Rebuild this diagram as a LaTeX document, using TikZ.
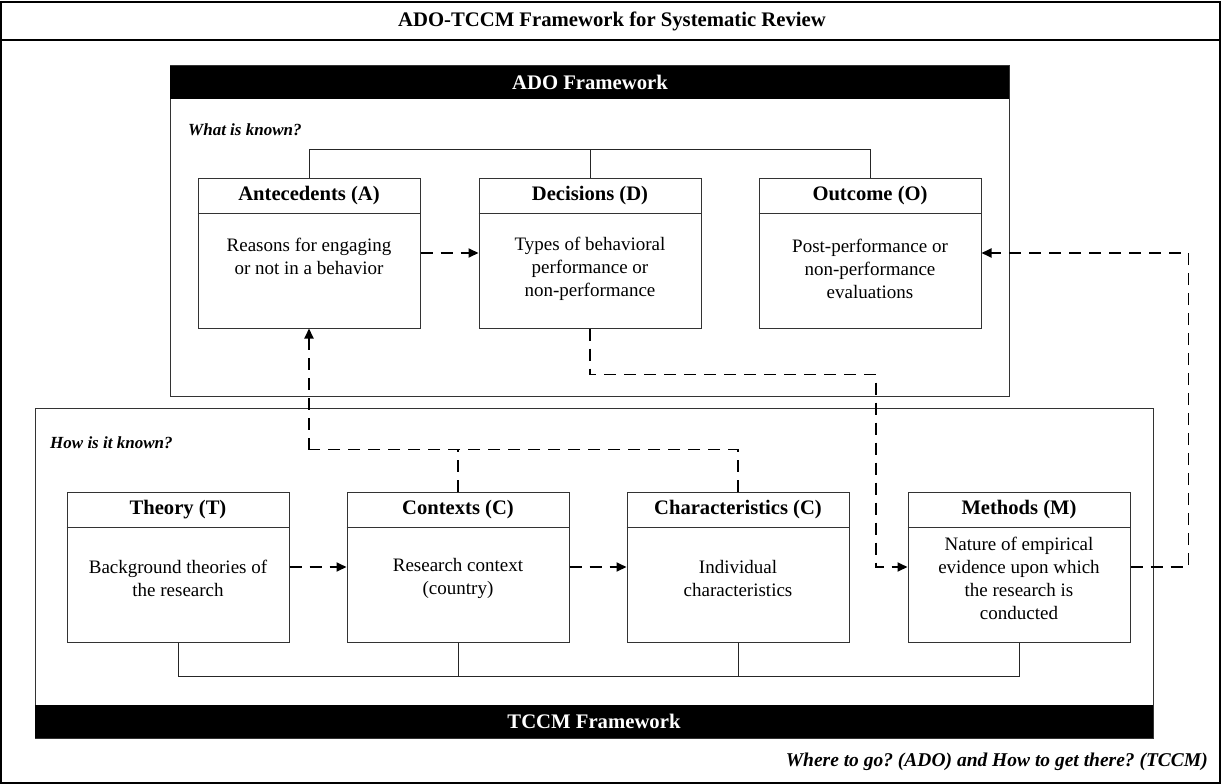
\documentclass[tikz,border=0pt]{standalone}
\usepackage{fontspec}
\setmainfont{Liberation Serif}
\usetikzlibrary{arrows.meta,calc}
\begin{document}
\frenchspacing
\begin{tikzpicture}[x=1pt,y=-1pt,
  box/.style={draw=black!80,line width=1pt,minimum width=222pt,minimum height=150pt,inner sep=0pt,fill=white},
  hdr/.style={font=\fontsize{20.6}{24}\selectfont\bfseries,inner sep=0pt},
  body/.style={font=\fontsize{19}{23}\selectfont,align=center,inner sep=0pt},
  lab/.style={font=\fontsize{17}{20}\selectfont\bfseries\itshape,inner sep=0pt},
  bandtext/.style={text=white,font=\fontsize{20.7}{24}\selectfont\bfseries,inner sep=0pt},
  dashline/.style={line width=1.8pt,dash pattern=on 12pt off 8pt},
  dasharrow/.style={dashline,-{Triangle[length=10pt,width=9pt]}},
  conn/.style={line width=0.9pt,draw=black!85}
]
\useasboundingbox (0,0) rectangle (1221,784);
% outer frame
\draw[line width=1.3pt] (1,2) rectangle (1220,783);
\draw[line width=1.3pt] (1,40) -- (1220,40);
\node[font=\fontsize{20.7}{24}\selectfont\bfseries,inner sep=0pt] (title) at (612,21) {ADO-TCCM Framework for Systematic Review};
% ADO frame
\draw[line width=1pt,draw=black!80] (170,66) rectangle (1009,396);
\fill (170,66) rectangle (1009,99);
\node[bandtext] (adoT) at (590,82.5) {ADO Framework};
\node[lab,anchor=west] (wk) at (188,130) {What is known?};
% TCCM frame
\draw[line width=1pt,draw=black!80] (35,408) rectangle (1153,738);
\fill (35,705) rectangle (1153,738);
\node[bandtext] (tccmT) at (594,721.5) {TCCM Framework};
\node[lab,anchor=west] (hk) at (50,443) {How is it known?};
% top row boxes
\node[box] (A) at (309,253) {};
\node[box] (D) at (590,253) {};
\node[box] (O) at (870,253) {};
% bottom row boxes
\node[box] (T) at (178,567) {};
\node[box] (C) at (458,567) {};
\node[box] (Ch) at (738,567) {};
\node[box] (M) at (1019,567) {};
% header lines
\foreach \n in {A,D,O,T,C,Ch,M}{
  \draw[line width=1pt,draw=black!80] ($(\n.north west)+(0,36)$) -- ($(\n.north east)+(0,36)$);
}
\node[hdr] (Ah) at ($(A.north)+(0,18)$) {Antecedents (A)};
\node[hdr] (Dh) at ($(D.north)+(0,18)$) {Decisions (D)};
\node[hdr] (Oh) at ($(O.north)+(0,18)$) {Outcome (O)};
\node[hdr] (Th) at ($(T.north)+(0,18)$) {Theory (T)};
\node[hdr] (Ch2) at ($(C.north)+(0,18)$) {Contexts (C)};
\node[hdr] (Chh) at ($(Ch.north)+(0,18)$) {Characteristics (C)};
\node[hdr] (Mh) at ($(M.north)+(0,18)$) {Methods (M)};
\node[body] (Ab) at (309,256.5) {Reasons for engaging\\or not in a behavior};
\node[body] (Db) at (590,269) {Types of behavioral\\performance or\\non-performance};
\node[body] (Ob) at (870,269) {Post-performance or\\non-performance\\evaluations};
\node[body] (Tb) at (178,578.5) {Background theories of\\the research};
\node[body] (Cb) at (458,578.5) {Research context\\(country)};
\node[body] (Chb) at (738,578.5) {Individual\\characteristics};
\node[body] (Mb) at (1019,578.5) {Nature of empirical\\evidence upon which\\the research is\\conducted};
% solid brackets
\draw[conn] (A.north) -- ++(0,-28) -| (O.north);
\draw[conn] (D.north) -- ++(0,-28);
\draw[conn] (T.south) -- ++(0,34) -| (M.south);
\draw[conn] (C.south) -- ++(0,34);
\draw[conn] (Ch.south) -- ++(0,34);
% dashed connectors
\draw[dasharrow] (A.east) -- (D.west);
\draw[dasharrow] (T.east) -- (C.west);
\draw[dasharrow] (C.east) -- (Ch.west);
\path (A.south) ++(0,121) coordinate (k2);
\draw[dashline] (Ch.north) |- (k2);
\draw[dashline] (C.north) -- (C.north |- k2);
\draw[dasharrow] (k2) -- (A.south);
\path (D.south) ++(286,46) coordinate (k1);
\draw[dasharrow] (D.south) |- (k1) |- (M.west);
\path (M.east) ++(58,0) coordinate (k3);
\draw[dasharrow] (M.east) -- (k3) |- (O.east);
% footer
\node[lab,anchor=east,font=\fontsize{19.5}{23}\selectfont\bfseries\itshape] (foot) at (1208,762) {Where to go? (ADO) and How to get there? (TCCM)};
\end{tikzpicture}
\end{document}
